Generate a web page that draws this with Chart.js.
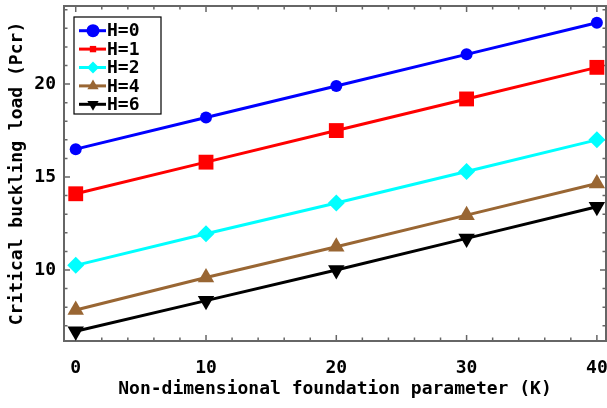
<!DOCTYPE html>
<html>
<head>
<meta charset="utf-8">
<script src="https://cdn.jsdelivr.net/npm/chart.js@4.4.0/dist/chart.umd.min.js"></script>
<style>
    html, body { margin: 0; padding: 0; background: #fff; }
    #wrap { width: 607px; height: 408px; }
</style>
</head>
<body>
<div id="wrap"><canvas id="chart" width="607" height="408"></canvas></div>
<script>
// Data
const kValues = [0, 10, 20, 30, 40];
const seriesNames = ['H=0', 'H=1', 'H=2', 'H=4', 'H=6'];
const loadH0 = [16.5, 18.2, 19.9, 21.6, 23.3];
const loadH1 = [14.1, 15.8, 17.5, 19.2, 20.9];
const loadH2 = [10.25, 11.95, 13.6, 15.3, 17.0];
const loadH4 = [7.85, 9.6, 11.25, 12.95, 14.65];
const loadH6 = [6.7, 8.35, 10.0, 11.7, 13.4];
const xTickLabels = [0, 10, 20, 30, 40];
const yTickLabels = [10, 15, 20];

const FONT = '"DejaVu Sans Mono", monospace';
const colors = ['#0000ff', '#ff0000', '#00ffff', '#996633', '#000000'];
const styles = [
    { pointStyle: 'circle', radius: 6, rotation: 0, legendRadius: 6.5 },
    { pointStyle: 'rect', radius: 10.5, rotation: 0, legendRadius: 4.5 },
    { pointStyle: 'rectRot', radius: 8.5, rotation: 0, legendRadius: 6 },
    { pointStyle: 'triangle', radius: 9.5, rotation: 0, legendRadius: 6.5 },
    { pointStyle: 'triangle', radius: 9.5, rotation: 180, legendRadius: 6.5 }
];
const allSeries = [loadH0, loadH1, loadH2, loadH4, loadH6];

const datasets = allSeries.map((vals, i) => ({
    label: seriesNames[i],
    data: vals.map((v, j) => ({ x: kValues[j], y: v })),
    borderColor: colors[i],
    backgroundColor: colors[i],
    borderWidth: 3,
    pointStyle: styles[i].pointStyle,
    pointRadius: styles[i].radius,
    pointRotation: styles[i].rotation,
    pointBorderWidth: 0,
    pointHoverRadius: styles[i].radius,
    tension: 0,
    clip: false
}));

// Frame with inward major/minor ticks on all four sides
const framePlugin = {
    id: 'frame',
    beforeDatasetsDraw(chart) {
        const { ctx, chartArea: a, scales } = chart;
        const xs = scales.x, ys = scales.y;
        ctx.save();
        ctx.strokeStyle = '#666666';
        ctx.lineWidth = 1.5;
        ctx.beginPath();
        for (let v = 0; v <= 40; v += 2) {
            const px = xs.getPixelForValue(v);
            const len = v % 10 === 0 ? 6 : 3.5;
            ctx.moveTo(px, a.bottom); ctx.lineTo(px, a.bottom - len);
            ctx.moveTo(px, a.top); ctx.lineTo(px, a.top + len);
        }
        for (let v = 7; v <= 24; v += 1) {
            const py = ys.getPixelForValue(v);
            const len = v % 5 === 0 ? 6 : 3.5;
            ctx.moveTo(a.left, py); ctx.lineTo(a.left + len, py);
            ctx.moveTo(a.right, py); ctx.lineTo(a.right - len, py);
        }
        ctx.stroke();
        ctx.lineWidth = 2;
        ctx.strokeRect(a.left, a.top, a.right - a.left, a.bottom - a.top);
        ctx.restore();
    }
};

// Legend drawn as line + marker like the reference
const legendPlugin = {
    id: 'lineLegend',
    afterDraw(chart) {
        const ctx = chart.ctx;
        const bx = 74, by = 17, bw = 87, bh = 97;
        ctx.save();
        ctx.fillStyle = '#fff';
        ctx.fillRect(bx, by, bw, bh);
        ctx.strokeStyle = '#000';
        ctx.lineWidth = 1.2;
        ctx.strokeRect(bx, by, bw, bh);
        chart.data.datasets.forEach((ds, i) => {
            const y = 30.7 + i * 18.4;
            ctx.strokeStyle = ds.borderColor;
            ctx.lineWidth = 3;
            ctx.beginPath();
            ctx.moveTo(79, y); ctx.lineTo(106, y);
            ctx.stroke();
            ctx.fillStyle = ds.backgroundColor;
            Chart.helpers.drawPoint(ctx, {
                pointStyle: styles[i].pointStyle,
                radius: styles[i].legendRadius,
                rotation: styles[i].rotation,
                borderWidth: 0
            }, 93, y);
            ctx.fillStyle = '#000';
            ctx.font = 'bold 18px ' + FONT;
            ctx.textAlign = 'left';
            ctx.textBaseline = 'middle';
            ctx.fillText(ds.label, 107, y + 1);
        });
        ctx.restore();
    }
};

new Chart(document.getElementById('chart'), {
    type: 'line',
    data: { datasets: datasets },
    options: {
        responsive: false,
        animation: false,
        events: [],
        layout: { autoPadding: false, padding: { top: 6, right: 1, left: 0, bottom: 0 } },
        plugins: { legend: { display: false }, tooltip: { enabled: false } },
        scales: {
            x: {
                type: 'linear',
                min: -0.9,
                max: 40.7,
                afterBuildTicks: s => { s.ticks = xTickLabels.map(v => ({ value: v })); },
                afterFit: s => { s.height = 67; s.paddingLeft = 0; s.paddingRight = 0; },
                grid: { display: false, drawTicks: false },
                border: { display: false },
                ticks: { color: '#000', padding: 17, font: { family: FONT, size: 18, weight: 'bold' } },
                title: {
                    display: true,
                    text: 'Non-dimensional foundation parameter (K)',
                    color: '#000',
                    padding: 8,
                    font: { family: FONT, size: 18, weight: 'bold' }
                }
            },
            y: {
                type: 'linear',
                min: 6.18,
                max: 24.2,
                afterBuildTicks: s => { s.ticks = yTickLabels.map(v => ({ value: v })); },
                afterFit: s => { s.width = 64; s.paddingTop = 0; s.paddingBottom = 0; },
                grid: { display: false, drawTicks: false },
                border: { display: false },
                ticks: { color: '#000', padding: 8, font: { family: FONT, size: 18, weight: 'bold' } },
                title: {
                    display: true,
                    text: 'Critical buckling load (Pcr)',
                    color: '#000',
                    padding: 7,
                    font: { family: FONT, size: 18, weight: 'bold' }
                }
            }
        }
    },
    plugins: [framePlugin, legendPlugin]
});
</script>
</body>
</html>
